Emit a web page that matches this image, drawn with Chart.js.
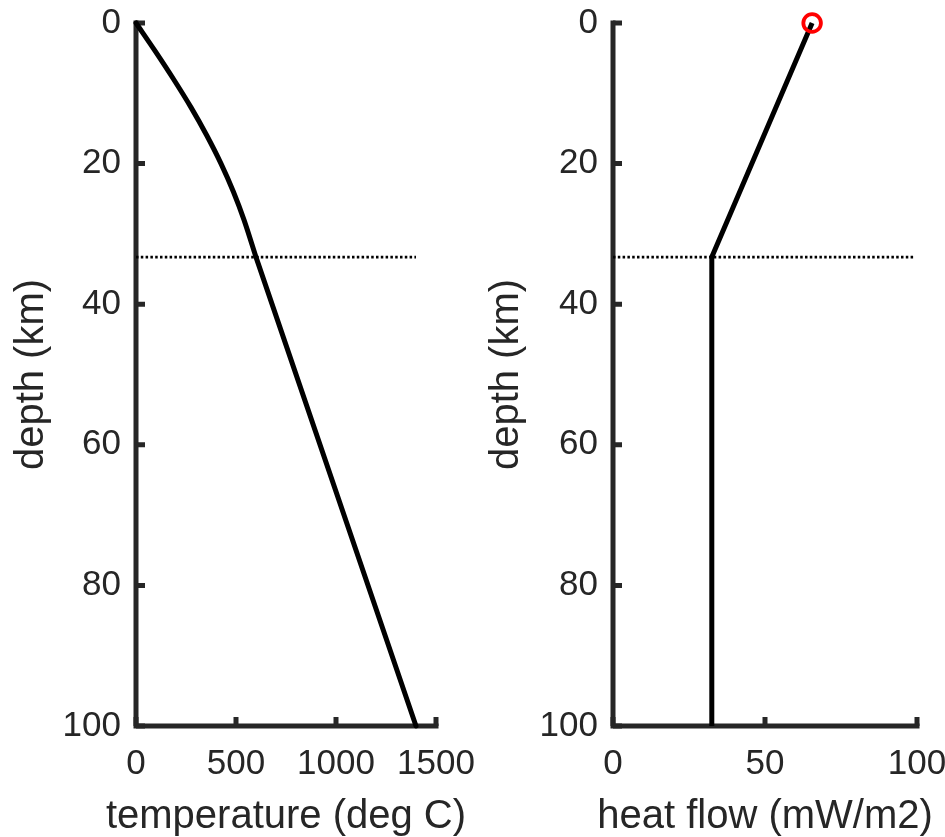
<!DOCTYPE html>
<html>
<head>
<meta charset="utf-8">
<script src="https://cdn.jsdelivr.net/npm/chart.js@4"></script>
<style>
  html, body { margin: 0; padding: 0; background: #fff; }
  #wrap { position: relative; width: 945px; height: 837px; overflow: hidden; }
  .panel { position: absolute; top: 0; height: 837px; }
  #left { left: 0; width: 475px; }
  #right { left: 475px; width: 470px; }
</style>
</head>
<body>
<div id="wrap">
  <div class="panel" id="left"><canvas id="tempChart" width="475" height="837"></canvas></div>
  <div class="panel" id="right"><canvas id="flowChart" width="470" height="837"></canvas></div>
</div>
<script>
// 地壳温度 (深度 km, 温度 deg C)
const crustDepth = [0, 4, 8, 12, 16, 20, 24, 28, 33.3];
const crustTemp = [0, 96, 188, 275, 354, 425, 487, 540, 600];

// 地幔温度 (线性段)
const mantleDepth = [33.3, 100];
const mantleTemp = [600, 1400];

// 热流剖面 (深度 km, mW/m2)
const flowDepth = [0, 33.3, 100];
const flowValue = [65.5, 32.5, 32.5];

// 地表热流标记
const surfaceDepth = [0];
const surfaceFlow = [65.5];

// 莫霍面 (虚线)
const mohoDepth = 33.3;
const tempRange = [0, 1400];
const flowRange = [0, 99];

// 刻度
const depthTicks = [0, 20, 40, 60, 80, 100];
const tempTicks = [0, 500, 1000, 1500];
const flowTicks = [0, 50, 100];

const axisColor = '#262626';
const fontFamily = "Arial, Helvetica, sans-serif";
const tickFont = { family: fontFamily, size: 35, lineHeight: 1 };
const titleFont = { family: fontFamily, size: 40, lineHeight: 1 };

function pairs(xs, ys) {
    return xs.map((x, i) => ({ x: x, y: ys[i] }));
}

// MATLAB风格的坐标轴: 左边和下边, 刻度朝内
const axesPlugin = {
    id: 'matlabAxes',
    beforeDatasetsDraw(chart) {
        const ctx = chart.ctx;
        const xs = chart.scales.x, ys = chart.scales.y;
        const { left, right, top, bottom } = chart.chartArea;
        ctx.save();
        ctx.strokeStyle = axisColor;
        ctx.lineWidth = 5;
        ctx.lineCap = 'square';
        ctx.lineJoin = 'miter';
        ctx.beginPath();
        ctx.moveTo(left, top);
        ctx.lineTo(left, bottom);
        ctx.lineTo(right, bottom);
        ctx.stroke();
        ctx.lineCap = 'butt';
        ctx.beginPath();
        xs.ticks.forEach(t => {
            const px = xs.getPixelForValue(t.value);
            ctx.moveTo(px, bottom);
            ctx.lineTo(px, bottom - 9);
        });
        ys.ticks.forEach(t => {
            const py = ys.getPixelForValue(t.value);
            ctx.moveTo(left, py);
            ctx.lineTo(left + 9, py);
        });
        ctx.stroke();
        ctx.restore();
    },
    // x轴标题自己画, 避免被压缩到坐标区宽度
    afterDraw(chart, args, opts) {
        const ctx = chart.ctx;
        const { left, right } = chart.chartArea;
        ctx.save();
        ctx.fillStyle = axisColor;
        ctx.font = titleFont.size + 'px ' + fontFamily;
        ctx.textAlign = 'center';
        ctx.textBaseline = 'middle';
        ctx.fillText(opts.text, (left + right) / 2, chart.scales.x.bottom - 20);
        ctx.restore();
    }
};

function xAxis(ticks, max) {
    return {
        type: 'linear',
        position: 'bottom',
        min: 0,
        max: max,
        afterBuildTicks: s => { s.ticks = ticks.map(v => ({ value: v })); },
        afterFit: s => { s.height = 111; s.paddingLeft = 0; s.paddingRight = 0; },
        grid: { display: false, drawTicks: false },
        border: { display: false },
        ticks: {
            color: axisColor, font: tickFont, padding: 21, maxRotation: 0, autoSkip: false,
            callback: v => String(v)
        }
    };
}

function yAxis(width) {
    return {
        type: 'linear',
        position: 'left',
        reverse: true,
        min: 0,
        max: 100,
        afterBuildTicks: s => { s.ticks = depthTicks.map(v => ({ value: v })); },
        afterFit: s => { s.width = width; s.paddingTop = 0; s.paddingBottom = 0; },
        grid: { display: false, drawTicks: false },
        border: { display: false },
        ticks: { color: axisColor, font: tickFont, padding: 15, autoSkip: false, callback: v => String(v) },
        title: { display: true, text: 'depth (km)', color: axisColor, font: titleFont, padding: { top: 12, bottom: 0 } }
    };
}

const baseOptions = (padRight, x, y, xLabel) => ({
    responsive: false,
    animation: false,
    layout: { padding: { top: 23, right: padRight, left: 0, bottom: 0 } },
    plugins: {
        legend: { display: false },
        tooltip: { enabled: false },
        matlabAxes: { text: xLabel }
    },
    scales: { x: x, y: y }
});

const profileLine = {
    borderColor: '#000',
    borderWidth: 5,
    pointRadius: 0,
    showLine: true,
    clip: false
};

const dottedLine = {
    borderColor: '#000',
    borderWidth: 2.6,
    borderDash: [2.5, 2.3],
    pointRadius: 0,
    showLine: true,
    clip: false
};

// 温度图
new Chart(document.getElementById('tempChart'), {
    type: 'scatter',
    data: {
        datasets: [
            Object.assign({ data: pairs(crustTemp, crustDepth), cubicInterpolationMode: 'monotone', borderCapStyle: 'round' }, profileLine),
            Object.assign({ data: pairs(mantleTemp, mantleDepth), borderCapStyle: 'round' }, profileLine),
            Object.assign({ data: tempRange.map(t => ({ x: t, y: mohoDepth })) }, dottedLine)
        ]
    },
    options: baseOptions(39, xAxis(tempTicks, 1500), yAxis(136), 'temperature (deg C)'),
    plugins: [axesPlugin]
});

// 热流图
new Chart(document.getElementById('flowChart'), {
    type: 'scatter',
    data: {
        datasets: [{
            data: pairs(surfaceFlow, surfaceDepth),
            pointRadius: 8.8,
            pointBorderWidth: 3.8,
            pointBorderColor: '#ff0000',
            pointBackgroundColor: 'rgba(0,0,0,0)',
            showLine: false,
            clip: false,
            order: 0
        },
            Object.assign({ data: pairs(flowValue, flowDepth), order: 1 }, profileLine),
            Object.assign({ data: flowRange.map(q => ({ x: q, y: mohoDepth })), order: 2 }, dottedLine)
        ]
    },
    options: baseOptions(28, xAxis(flowTicks, 100), yAxis(138), 'heat flow (mW/m2)'),
    plugins: [axesPlugin]
});
</script>
</body>
</html>
